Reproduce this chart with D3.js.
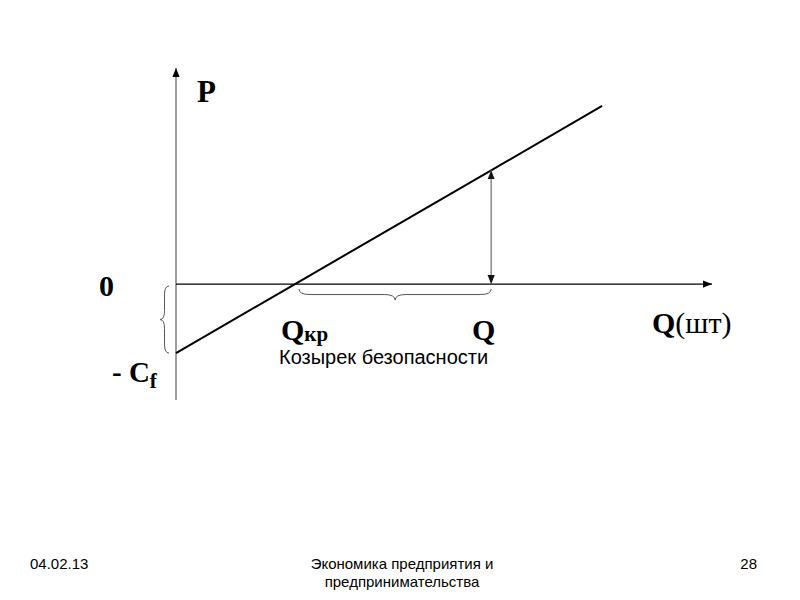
<!DOCTYPE html>
<html>
<head>
<meta charset="utf-8">
<script src="https://cdn.jsdelivr.net/npm/d3@7"></script>
<style>
  body { margin: 0; background: #fff; }
  svg { display: block; }
</style>
</head>
<body>
<div id="app"></div>
<script>
// profit line (Q units, P units)
const lineQ = [0, 22.2, 58.8, 79.5];
const lineP = [-30, 0, 49.4, 77.4];

const fixedCost = 30;      // Cf
const breakEvenQ = 22.2;   // Qкр
const currentQ = 58.8;     // Q
const currentP = 49.4;

const footerLeft = "04.02.13";
const footerCenter = ["Экономика предприятия и", "предпринимательства"];
const footerRight = "28";

const width = 800, height = 600;

const svg = d3.select("#app")
  .append("svg")
  .attr("width", width)
  .attr("height", height);

const x = d3.scaleLinear().domain([0, 100]).range([176, 712]);
const y = d3.scaleLinear().domain([-50.4, 93.9]).range([400, 68]);

const defs = svg.append("defs");
function marker(id, color) {
  defs.append("marker")
    .attr("id", id)
    .attr("viewBox", "0 0 10 10")
    .attr("refX", 10)
    .attr("refY", 5)
    .attr("markerWidth", 9)
    .attr("markerHeight", 9)
    .attr("markerUnits", "userSpaceOnUse")
    .attr("orient", "auto-start-reverse")
    .append("path")
    .attr("d", "M 0 1 L 10 5 L 0 9 z")
    .attr("fill", color);
}
marker("arrow-black", "#000");
marker("arrow-gray", "#111");

// axes
svg.append("line")
  .attr("x1", x(0)).attr("y1", y(-50.4))
  .attr("x2", x(0)).attr("y2", y(93.9))
  .attr("stroke", "#7f7f7f")
  .attr("stroke-width", 1.5)
  .attr("marker-end", "url(#arrow-black)");

svg.append("line")
  .attr("x1", x(0)).attr("y1", y(0))
  .attr("x2", x(100)).attr("y2", y(0))
  .attr("stroke", "#000")
  .attr("stroke-width", 1.3)
  .attr("marker-end", "url(#arrow-black)");

// profit line
const line = d3.line().x((d, i) => x(lineQ[i])).y(d => y(d));
svg.append("path")
  .attr("d", line(lineP))
  .attr("fill", "none")
  .attr("stroke", "#000")
  .attr("stroke-width", 2);

// double arrow at Q
svg.append("line")
  .attr("x1", x(currentQ)).attr("y1", y(0))
  .attr("x2", x(currentQ)).attr("y2", y(currentP))
  .attr("stroke", "#8a8a8a")
  .attr("stroke-width", 1.5)
  .attr("marker-start", "url(#arrow-gray)")
  .attr("marker-end", "url(#arrow-gray)");

// curly braces
function hBrace(x1, x2, y0, depth) {
  const m = (x1 + x2) / 2, r = depth / 2;
  return `M ${x1} ${y0} Q ${x1} ${y0 + r} ${x1 + r * 2} ${y0 + r}` +
    ` L ${m - r * 2} ${y0 + r} Q ${m} ${y0 + r} ${m} ${y0 + depth}` +
    ` Q ${m} ${y0 + r} ${m + r * 2} ${y0 + r}` +
    ` L ${x2 - r * 2} ${y0 + r} Q ${x2} ${y0 + r} ${x2} ${y0}`;
}
function vBrace(y1, y2, x0, depth) {
  const m = (y1 + y2) / 2, r = depth / 2;
  return `M ${x0} ${y1} Q ${x0 - r} ${y1} ${x0 - r} ${y1 + r * 2}` +
    ` L ${x0 - r} ${m - r * 2} Q ${x0 - r} ${m} ${x0 - depth} ${m}` +
    ` Q ${x0 - r} ${m} ${x0 - r} ${m + r * 2}` +
    ` L ${x0 - r} ${y2 - r * 2} Q ${x0 - r} ${y2} ${x0} ${y2}`;
}
svg.append("path")
  .attr("d", hBrace(x(breakEvenQ) + 4, x(currentQ), y(0) + 5, 11))
  .attr("fill", "none").attr("stroke", "#555").attr("stroke-width", 1);
svg.append("path")
  .attr("d", vBrace(y(0) + 2, y(-fixedCost), 169, 9))
  .attr("fill", "none").attr("stroke", "#555").attr("stroke-width", 1);

// labels
const serif = "'Liberation Serif', 'Times New Roman', serif";
const sans = "'Liberation Sans', Arial, sans-serif";

function label(tx, ty, parts, size) {
  const t = svg.append("text")
    .attr("x", tx).attr("y", ty)
    .attr("font-family", serif)
    .attr("font-size", size)
    .attr("fill", "#000");
  parts.forEach(p => {
    const s = t.append("tspan").text(p.text)
      .attr("font-weight", p.bold === false ? "normal" : "bold");
    if (p.size) s.attr("font-size", p.size);
    if (p.dy) s.attr("dy", p.dy);
  });
  return t;
}

label(197, 102, [{ text: "P" }], 31);
label(99, 296, [{ text: "0" }], 30);
label(112, 382, [{ text: "- C" }, { text: "f", size: 21, dy: 6 }], 29);
label(281, 340, [{ text: "Q" }, { text: "кр", size: 21, dy: 1 }], 30);
label(472, 340, [{ text: "Q" }], 30);
label(652, 333, [{ text: "Q" }, { text: "(шт)", bold: false }], 30);

svg.append("text")
  .attr("x", 279).attr("y", 364)
  .attr("font-family", sans)
  .attr("font-size", 20)
  .text("Козырек безопасности");

// footer
const footer = svg.append("g")
  .attr("font-family", sans)
  .attr("font-size", 15)
  .attr("fill", "#000");
footer.append("text").attr("x", 30).attr("y", 569).text(footerLeft);
footer.append("text").attr("x", 757).attr("y", 569).attr("text-anchor", "end").text(footerRight);
footer.selectAll("text.center")
  .data(footerCenter)
  .join("text")
  .attr("class", "center")
  .attr("x", 402)
  .attr("y", (d, i) => 569 + i * 18)
  .attr("text-anchor", "middle")
  .text(d => d);
</script>
</body>
</html>
